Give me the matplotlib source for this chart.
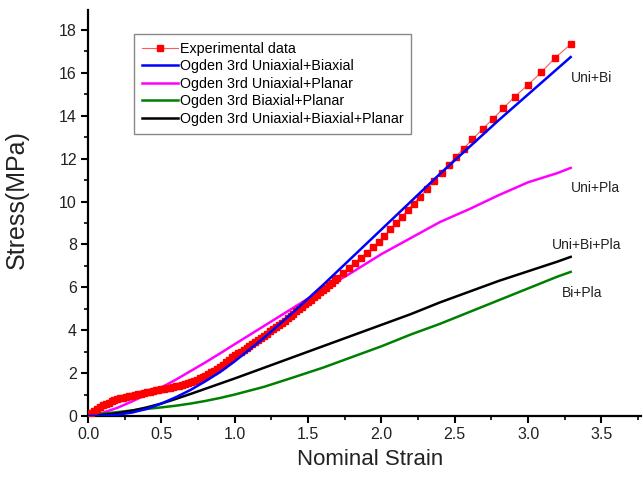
import matplotlib
matplotlib.use("Agg")
import matplotlib.pyplot as plt
from matplotlib.ticker import MultipleLocator

plt.rcParams['font.family'] = ['Liberation Sans', 'DejaVu Sans']

exp_x = [0.00, 0.02, 0.04, 0.06, 0.08, 0.10, 0.12, 0.14, 0.16, 0.18,
         0.20, 0.22, 0.24, 0.26, 0.28, 0.30, 0.32, 0.34, 0.36, 0.38,
         0.40, 0.42, 0.44, 0.46, 0.48, 0.50, 0.52, 0.54, 0.56, 0.58,
         0.60, 0.62, 0.64, 0.66, 0.68, 0.70, 0.72, 0.74, 0.76, 0.78,
         0.80, 0.82, 0.84, 0.86, 0.88, 0.90, 0.92, 0.94, 0.96, 0.98,
         1.00, 1.02, 1.04, 1.06, 1.08, 1.10, 1.12, 1.14, 1.16, 1.18,
         1.20, 1.22, 1.24, 1.26, 1.28, 1.30, 1.32, 1.34, 1.36, 1.38,
         1.40, 1.42, 1.44, 1.46, 1.48, 1.50, 1.52, 1.54, 1.56, 1.58,
         1.60, 1.62, 1.64, 1.66, 1.68, 1.70, 1.74, 1.78, 1.82, 1.86,
         1.90, 1.94, 1.98, 2.02, 2.06, 2.10, 2.14, 2.18, 2.22, 2.26,
         2.31, 2.36, 2.41, 2.46, 2.51, 2.56, 2.62, 2.69, 2.76, 2.83,
         2.91, 3.00, 3.09, 3.18, 3.29]
exp_y = [0.00, 0.12, 0.22, 0.32, 0.41, 0.49, 0.56, 0.62, 0.68, 0.73,
         0.78, 0.82, 0.86, 0.89, 0.92, 0.95, 0.98, 1.01, 1.04, 1.07,
         1.10, 1.13, 1.16, 1.19, 1.21, 1.24, 1.26, 1.29, 1.32, 1.35,
         1.38, 1.41, 1.45, 1.49, 1.53, 1.58, 1.63, 1.69, 1.75, 1.81,
         1.88, 1.96, 2.04, 2.12, 2.21, 2.30, 2.40, 2.50, 2.62, 2.74,
         2.83, 2.92, 3.00, 3.09, 3.18, 3.27, 3.36, 3.45, 3.55, 3.64,
         3.74, 3.84, 3.94, 4.04, 4.14, 4.24, 4.34, 4.45, 4.55, 4.66,
         4.77, 4.88, 4.99, 5.10, 5.21, 5.32, 5.43, 5.54, 5.65, 5.76,
         5.87, 5.98, 6.09, 6.20, 6.32, 6.44, 6.68, 6.92, 7.15, 7.38,
         7.62, 7.86, 8.12, 8.40, 8.70, 9.00, 9.30, 9.60, 9.90, 10.20,
         10.58, 10.97, 11.35, 11.72, 12.10, 12.47, 12.90, 13.39, 13.85, 14.35,
         14.90, 15.45, 16.03, 16.68, 17.34]

# model curves
fit_x = [0.0, 0.1, 0.2, 0.3, 0.4, 0.5, 0.6, 0.7, 0.8, 0.9, 1.0, 1.2, 1.4, 1.6, 1.8, 2.0,
         2.2, 2.4, 2.6, 2.8, 3.0, 3.2, 3.29]
uni_bi = [0.0, 0.01, 0.06, 0.16, 0.33, 0.58, 0.88, 1.22, 1.62, 2.05, 2.55, 3.65, 4.85, 6.1,
          7.4, 8.7, 10.0, 11.3, 12.55, 13.8, 15.0, 16.2, 16.74]
uni_pla = [0.0, 0.15, 0.38, 0.68, 1.0, 1.33, 1.7, 2.1, 2.5, 2.92, 3.35, 4.2, 5.05, 5.9,
           6.7, 7.55, 8.3, 9.05, 9.65, 10.3, 10.9, 11.33, 11.57]
bi_pla = [0.0, 0.1, 0.18, 0.26, 0.33, 0.4, 0.48, 0.58, 0.7, 0.84, 1.0, 1.36, 1.8, 2.25,
          2.75, 3.25, 3.8, 4.3, 4.85, 5.4, 5.95, 6.5, 6.72]
uni_bi_pla = [0.0, 0.05, 0.13, 0.25, 0.4, 0.58, 0.8, 1.03, 1.27, 1.51, 1.75, 2.25, 2.75, 3.25,
              3.75, 4.25, 4.75, 5.3, 5.8, 6.3, 6.75, 7.2, 7.42]

curve_labels = ["Uni+Bi", "Uni+Pla", "Uni+Bi+Pla", "Bi+Pla"]
label_pos = [(3.29, 15.77), (3.29, 10.63), (3.16, 7.98), (3.23, 5.74)]

fig = plt.figure(figsize=(6.43, 4.82), dpi=100)
ax = fig.add_axes([0.137, 0.137, 0.86, 0.842])

ax.plot(exp_x, exp_y, color='#ff5a5a', lw=0.8, marker='s', markersize=3.8,
        markerfacecolor='red', markeredgecolor='red', label='Experimental data', zorder=3)
ax.plot(fit_x, uni_bi, color='#0000ff', lw=1.8, label='Ogden 3rd Uniaxial+Biaxial', zorder=4)
ax.plot(fit_x, uni_pla, color='#ff00ff', lw=1.8, label='Ogden 3rd Uniaxial+Planar', zorder=2)
ax.plot(fit_x, bi_pla, color='#008000', lw=1.8, label='Ogden 3rd Biaxial+Planar', zorder=2)
ax.plot(fit_x, uni_bi_pla, color='black', lw=1.8, label='Ogden 3rd Uniaxial+Biaxial+Planar', zorder=2)

for txt, (tx, ty) in zip(curve_labels, label_pos):
    ax.text(tx, ty, txt, fontsize=10, va='center', ha='left', color='#222222')

ax.set_xlim(0, 3.77)
ax.set_ylim(0, 18.93)
ax.xaxis.set_major_locator(MultipleLocator(0.5))
ax.xaxis.set_minor_locator(MultipleLocator(0.25))
ax.yaxis.set_major_locator(MultipleLocator(2))
ax.yaxis.set_minor_locator(MultipleLocator(1))

for s in ['top', 'right']:
    ax.spines[s].set_visible(False)
for s in ['left', 'bottom']:
    ax.spines[s].set_linewidth(1.6)
ax.tick_params(which='major', direction='out', length=5, width=1.5, labelsize=11.5,
               pad=3, labelcolor='#222222')
ax.tick_params(which='minor', direction='out', length=3, width=1.2)

ax.set_xlabel('Nominal Strain', fontsize=16, color='#222222')
ax.set_ylabel('Stress(MPa)', fontsize=18, color='#222222')
ax.xaxis.set_label_coords(0.51, -0.082)
ax.yaxis.set_label_coords(-0.108, 0.534)

leg = ax.legend(loc='upper left', bbox_to_anchor=(0.083, 0.941), fontsize=10.3,
                handlelength=2.5, handletextpad=0.15, labelspacing=0.24,
                borderaxespad=0, fancybox=False, framealpha=1, borderpad=0.55)
leg.get_frame().set_edgecolor('#888888')
leg.get_frame().set_linewidth(1.0)

fig.savefig('out.png', dpi=100)
